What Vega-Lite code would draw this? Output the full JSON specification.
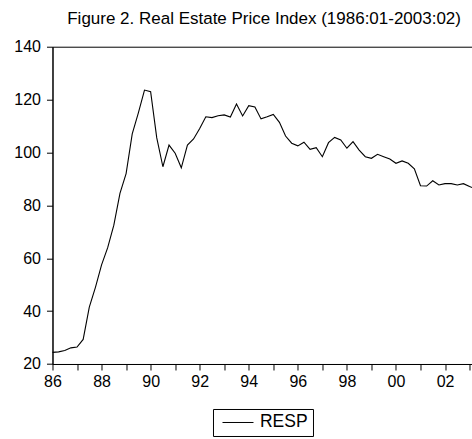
{
  "$schema": "https://vega.github.io/schema/vega-lite/v6.json",
  "autosize": {"type": "none"},
  "padding": {"left": 52.5, "top": 46.7, "right": 0, "bottom": 75},
  "width": 423.2,
  "height": 317.3,
  "background": "white",
  "title": {
    "text": "Figure 2. Real Estate Price Index (1986:01-2003:02)",
    "font": "Liberation Sans",
    "fontSize": 17,
    "fontWeight": "normal",
    "color": "black",
    "anchor": "middle",
    "frame": "group",
    "baseline": "alphabetic",
    "offset": -2
  },
  "data": {
    "values": [
      {"t": 1986.0, "RESP": 24.4, "series": "RESP"},
      {"t": 1986.25, "RESP": 24.6, "series": "RESP"},
      {"t": 1986.5, "RESP": 25.1, "series": "RESP"},
      {"t": 1986.75, "RESP": 26.1, "series": "RESP"},
      {"t": 1987.0, "RESP": 26.4, "series": "RESP"},
      {"t": 1987.25, "RESP": 29.3, "series": "RESP"},
      {"t": 1987.5, "RESP": 41.5, "series": "RESP"},
      {"t": 1987.75, "RESP": 49.0, "series": "RESP"},
      {"t": 1988.0, "RESP": 57.5, "series": "RESP"},
      {"t": 1988.25, "RESP": 64.0, "series": "RESP"},
      {"t": 1988.5, "RESP": 72.5, "series": "RESP"},
      {"t": 1988.75, "RESP": 84.5, "series": "RESP"},
      {"t": 1989.0, "RESP": 92.0, "series": "RESP"},
      {"t": 1989.25, "RESP": 107.0, "series": "RESP"},
      {"t": 1989.5, "RESP": 115.0, "series": "RESP"},
      {"t": 1989.75, "RESP": 123.6, "series": "RESP"},
      {"t": 1990.0, "RESP": 123.0, "series": "RESP"},
      {"t": 1990.25, "RESP": 105.5, "series": "RESP"},
      {"t": 1990.5, "RESP": 94.6, "series": "RESP"},
      {"t": 1990.75, "RESP": 102.8, "series": "RESP"},
      {"t": 1991.0, "RESP": 99.7, "series": "RESP"},
      {"t": 1991.25, "RESP": 94.2, "series": "RESP"},
      {"t": 1991.5, "RESP": 102.8, "series": "RESP"},
      {"t": 1991.75, "RESP": 105.1, "series": "RESP"},
      {"t": 1992.0, "RESP": 109.1, "series": "RESP"},
      {"t": 1992.25, "RESP": 113.5, "series": "RESP"},
      {"t": 1992.5, "RESP": 113.2, "series": "RESP"},
      {"t": 1992.75, "RESP": 113.9, "series": "RESP"},
      {"t": 1993.0, "RESP": 114.2, "series": "RESP"},
      {"t": 1993.25, "RESP": 113.4, "series": "RESP"},
      {"t": 1993.5, "RESP": 118.3, "series": "RESP"},
      {"t": 1993.75, "RESP": 113.8, "series": "RESP"},
      {"t": 1994.0, "RESP": 117.7, "series": "RESP"},
      {"t": 1994.25, "RESP": 117.2, "series": "RESP"},
      {"t": 1994.5, "RESP": 112.7, "series": "RESP"},
      {"t": 1994.75, "RESP": 113.5, "series": "RESP"},
      {"t": 1995.0, "RESP": 114.4, "series": "RESP"},
      {"t": 1995.25, "RESP": 111.4, "series": "RESP"},
      {"t": 1995.5, "RESP": 106.2, "series": "RESP"},
      {"t": 1995.75, "RESP": 103.5, "series": "RESP"},
      {"t": 1996.0, "RESP": 102.5, "series": "RESP"},
      {"t": 1996.25, "RESP": 103.9, "series": "RESP"},
      {"t": 1996.5, "RESP": 101.2, "series": "RESP"},
      {"t": 1996.75, "RESP": 101.8, "series": "RESP"},
      {"t": 1997.0, "RESP": 98.4, "series": "RESP"},
      {"t": 1997.25, "RESP": 103.7, "series": "RESP"},
      {"t": 1997.5, "RESP": 105.7, "series": "RESP"},
      {"t": 1997.75, "RESP": 104.7, "series": "RESP"},
      {"t": 1998.0, "RESP": 101.6, "series": "RESP"},
      {"t": 1998.25, "RESP": 104.1, "series": "RESP"},
      {"t": 1998.5, "RESP": 100.9, "series": "RESP"},
      {"t": 1998.75, "RESP": 98.4, "series": "RESP"},
      {"t": 1999.0, "RESP": 97.8, "series": "RESP"},
      {"t": 1999.25, "RESP": 99.3, "series": "RESP"},
      {"t": 1999.5, "RESP": 98.4, "series": "RESP"},
      {"t": 1999.75, "RESP": 97.5, "series": "RESP"},
      {"t": 2000.0, "RESP": 95.9, "series": "RESP"},
      {"t": 2000.25, "RESP": 96.8, "series": "RESP"},
      {"t": 2000.5, "RESP": 95.9, "series": "RESP"},
      {"t": 2000.75, "RESP": 93.8, "series": "RESP"},
      {"t": 2001.0, "RESP": 87.4, "series": "RESP"},
      {"t": 2001.25, "RESP": 87.3, "series": "RESP"},
      {"t": 2001.5, "RESP": 89.3, "series": "RESP"},
      {"t": 2001.75, "RESP": 87.7, "series": "RESP"},
      {"t": 2002.0, "RESP": 88.2, "series": "RESP"},
      {"t": 2002.25, "RESP": 88.2, "series": "RESP"},
      {"t": 2002.5, "RESP": 87.7, "series": "RESP"},
      {"t": 2002.75, "RESP": 88.2, "series": "RESP"},
      {"t": 2003.0, "RESP": 87.1, "series": "RESP"},
      {"t": 2003.25, "RESP": 86.2, "series": "RESP"}
    ]
  },
  "mark": {"type": "line", "strokeWidth": 1.1, "interpolate": "linear"},
  "encoding": {
    "x": {
      "field": "t",
      "type": "quantitative",
      "scale": {"domain": [1986, 2003.25], "nice": false, "zero": false},
      "axis": {
        "title": null,
        "values": [1986, 1987, 1988, 1989, 1990, 1991, 1992, 1993, 1994, 1995, 1996, 1997, 1998, 1999, 2000, 2001, 2002, 2003],
        "labelExpr": "datum.value % 2 == 0 ? slice(toString(datum.value), 2) : ''",
        "grid": false,
        "tickSize": 6,
        "labelPadding": 4,
        "labelFlush": false,
        "labelOverlap": false
      }
    },
    "y": {
      "field": "RESP",
      "type": "quantitative",
      "scale": {"domain": [20, 140], "nice": false, "zero": false},
      "axis": {
        "title": null,
        "values": [20, 40, 60, 80, 100, 120, 140],
        "grid": false,
        "tickSize": 6,
        "labelPadding": 6
      }
    },
    "color": {
      "field": "series",
      "type": "nominal",
      "scale": {"range": ["black"]},
      "legend": {
        "title": null,
        "orient": "none",
        "legendX": 160.5,
        "legendY": 362.3,
        "direction": "horizontal",
        "symbolType": "stroke",
        "symbolSize": 961,
        "symbolStrokeWidth": 1,
        "symbolOffset": 4,
        "clipHeight": 17,
        "strokeColor": "black",
        "padding": 5,
        "labelOffset": 6,
        "labelFont": "Liberation Sans",
        "labelFontSize": 17.5,
        "labelColor": "black"
      }
    }
  },
  "config": {
    "view": {"stroke": "black", "strokeWidth": 1},
    "axis": {
      "domainColor": "black",
      "tickColor": "black",
      "labelColor": "black",
      "labelFont": "Liberation Sans",
      "labelFontSize": 16,
      "domainWidth": 1,
      "tickWidth": 1
    }
  }
}
